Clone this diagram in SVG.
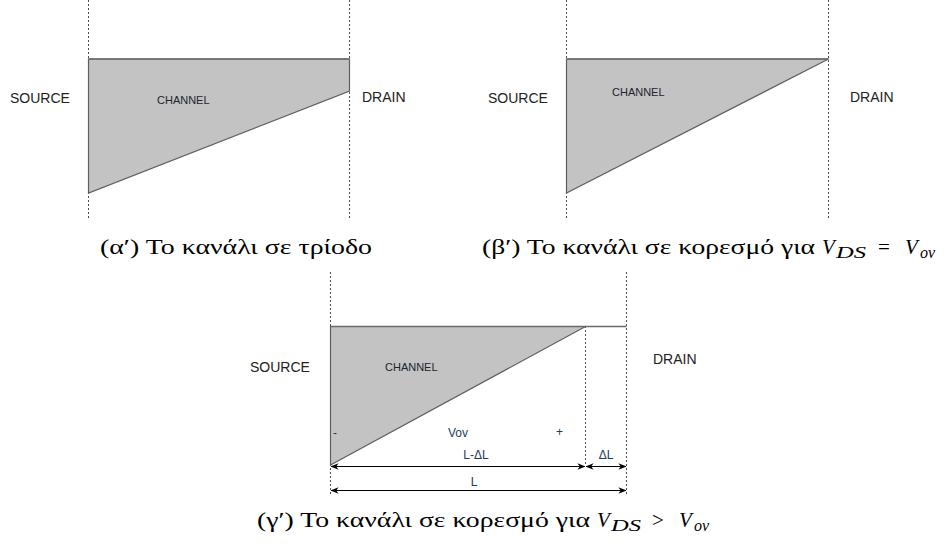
<svg xmlns="http://www.w3.org/2000/svg" width="950" height="548" viewBox="0 0 950 548">
<defs>
<style>
.bg{fill:#ffffff}
.guide{stroke:#4d4d4d;stroke-width:1;stroke-dasharray:2 2;fill:none}
.chan{fill:#c3c3c3;stroke:#5f5f5f;stroke-width:1.2;stroke-linejoin:miter}
.edge{stroke:#6a6a6a;stroke-width:1.5;fill:none}
.lbl{font-family:"Liberation Sans",Arial,sans-serif;font-size:14px;fill:#222222}
.ch{font-family:"Liberation Sans",Arial,sans-serif;font-size:11px;fill:#1e2330}
.dim{font-family:"Liberation Sans",Arial,sans-serif;font-size:12px;fill:#1f3a5f}
.cap{font-family:"Liberation Serif","DejaVu Serif",serif;font-size:21px;fill:#000000}
.math{font-family:"Liberation Serif","DejaVu Serif",serif;font-size:21px;font-style:italic;fill:#000000}
.sub{font-family:"Liberation Serif","DejaVu Serif",serif;font-size:16px;font-style:italic;fill:#000000}
.arr{stroke:#000000;stroke-width:1;fill:none;marker-start:url(#ah);marker-end:url(#ah)}
</style>
<marker id="ah" viewBox="0 0 10 8" refX="9.5" refY="4" markerWidth="8" markerHeight="6.4" markerUnits="userSpaceOnUse" orient="auto-start-reverse">
<path d="M0,0 L10,4 L0,8 L3,4 z" fill="#000000"/>
</marker>
</defs>
<rect class="bg" x="0" y="0" width="950" height="548"/>

<!-- Panel alpha -->
<g id="panel-a">
<line class="guide" x1="88.5" y1="0" x2="88.5" y2="218"/>
<line class="guide" x1="349.5" y1="0" x2="349.5" y2="218"/>
<polygon class="chan" points="88.5,59 349.5,59 349.5,91 88.5,193"/>
<line class="edge" x1="88.5" y1="59" x2="349.5" y2="59"/>
<text class="lbl" x="10" y="103">SOURCE</text>
<text class="ch" x="157" y="104">CHANNEL</text>
<text class="lbl" x="362" y="102">DRAIN</text>
<text class="cap" x="100" y="254" textLength="272" lengthAdjust="spacingAndGlyphs">(α′) Το κανάλι σε τρίοδο</text>
</g>

<!-- Panel beta -->
<g id="panel-b">
<line class="guide" x1="566.5" y1="0" x2="566.5" y2="218"/>
<line class="guide" x1="828.5" y1="0" x2="828.5" y2="218"/>
<polygon class="chan" points="566.5,59 828.5,59 566.5,193"/>
<line class="edge" x1="566.5" y1="59" x2="828.5" y2="59"/>
<text class="lbl" x="488" y="103">SOURCE</text>
<text class="ch" x="612" y="96">CHANNEL</text>
<text class="lbl" x="850" y="102">DRAIN</text>
<text class="cap" x="482" y="254" textLength="333" lengthAdjust="spacingAndGlyphs">(β′) Το κανάλι σε κορεσμό για</text>
<text class="math" x="822" y="254">V</text>
<text class="sub" x="836" y="258" textLength="30" lengthAdjust="spacingAndGlyphs">DS</text>
<text class="cap" x="878" y="254">=</text>
<text class="math" x="905" y="254">V</text>
<text class="sub" x="920" y="258">ov</text>
</g>

<!-- Panel gamma -->
<g id="panel-c">
<line class="guide" x1="330.5" y1="272" x2="330.5" y2="496"/>
<line class="guide" x1="626.5" y1="272" x2="626.5" y2="496"/>
<line class="guide" x1="585.5" y1="326" x2="585.5" y2="466"/>
<polygon class="chan" points="330.5,326.5 585.5,326.5 330.5,465"/>
<line class="edge" x1="330.5" y1="326.5" x2="626.5" y2="326.5"/>
<text class="lbl" x="250" y="372">SOURCE</text>
<text class="ch" x="385" y="371">CHANNEL</text>
<text class="lbl" x="653" y="364">DRAIN</text>
<text class="dim" x="333" y="437">-</text>
<text class="dim" x="448" y="437">Vov</text>
<text class="dim" x="556" y="436">+</text>
<text class="dim" x="476" y="459" text-anchor="middle">L-ΔL</text>
<text class="dim" x="606" y="459" text-anchor="middle">ΔL</text>
<text class="dim" x="474" y="486" text-anchor="middle">L</text>
<text class="cap" x="257" y="527" textLength="333" lengthAdjust="spacingAndGlyphs">(γ′) Το κανάλι σε κορεσμό για</text>
<text class="math" x="597" y="527">V</text>
<text class="sub" x="611" y="531" textLength="30" lengthAdjust="spacingAndGlyphs">DS</text>
<text class="cap" x="652" y="527">&gt;</text>
<text class="math" x="679" y="527">V</text>
<text class="sub" x="694" y="531">ov</text>
</g>

<!-- Connectors (dimension arrows) -->
<g id="connectors">
<line class="arr" x1="331" y1="466.5" x2="585" y2="466.5"/>
<line class="arr" x1="586" y1="466.5" x2="626" y2="466.5"/>
<line class="arr" x1="331" y1="490.5" x2="626" y2="490.5"/>
</g>
</svg>
